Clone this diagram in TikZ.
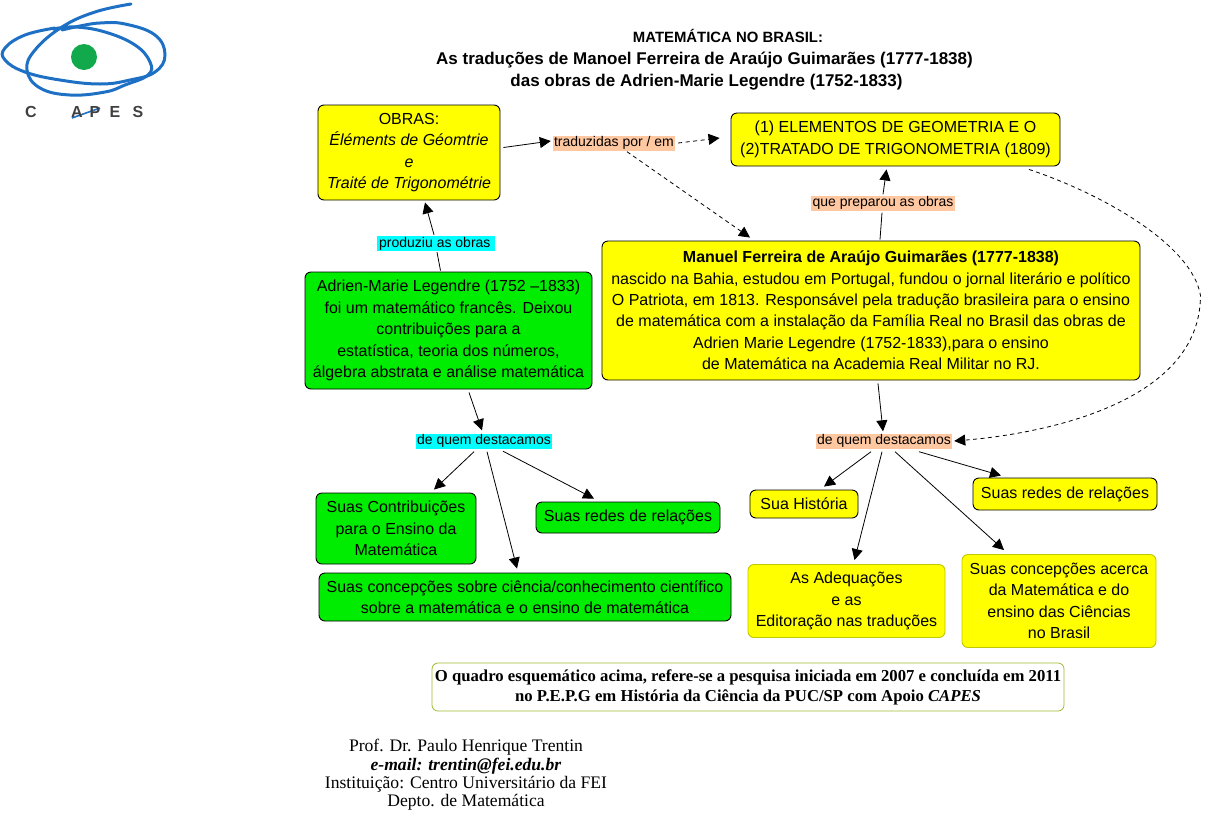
\documentclass[tikz,border=0pt]{standalone}
\usepackage{fontspec}
\setmainfont{Liberation Sans}
\newfontfamily\serifface{Liberation Serif}
\usepackage{xcolor}
\usetikzlibrary{arrows.meta,positioning,calc}
\definecolor{cyellow}{HTML}{FFFF00}
\definecolor{cgreen}{HTML}{00EC00}
\definecolor{cpeach}{HTML}{FFC8A0}
\definecolor{ccyan}{HTML}{00FFFF}
\definecolor{cedge}{HTML}{BFC800}
\definecolor{cframe}{HTML}{9DBB2C}
\definecolor{cblue}{HTML}{1E70C4}
\definecolor{cdot}{HTML}{12A84C}
\tikzset{
  box/.style    = {draw, rounded corners=6pt, inner sep=0pt, align=center, line width=0.9pt,
                   font=\fontsize{16}{21.4}\selectfont},
  ybox/.style   = {box, fill=cyellow},
  gbox/.style   = {box, fill=cgreen},
  pbox/.style   = {box, fill=cyellow, draw=cedge},
  tag/.style    = {inner sep=0pt, minimum height=15pt, font=\fontsize{14}{15}\selectfont},
  rel/.style    = {-{Triangle[length=11pt,width=11pt]}, line width=0.8pt},
  reldash/.style= {rel, dash pattern=on 4pt off 3.5pt},
  plain/.style  = {line width=0.8pt},
}
\begin{document}
\begin{tikzpicture}[x=1pt,y=-1pt]
\useasboundingbox (0,0) rectangle (1206,839);
% logo
\draw[cblue,line width=3pt,line cap=round] plot[smooth,tension=0.7] coordinates {(131,4) (95,12) (62,27) (35,50) (27,70) (40,88) (70,95) (105,92) (125,85) (148,75) (150,62) (135,45) (105,32) (75,27) (53,29)};
\draw[cblue,line width=3pt,line cap=round] plot[smooth,tension=0.7] coordinates {(55,28) (25,35) (5,48) (5,60) (25,72) (60,80) (100,84) (130,80) (155,72) (165,55) (155,35) (125,24) (100,23) (80,26) (62,30)};
\draw[cblue,line width=1.6pt] (72,118) -- (100,108);
\node[fill=cdot,circle,inner sep=0pt,minimum size=26pt] (logodot) at (84,57) {};
\foreach \x/\lab in {31/C,77/A,95/P,115/E,138/S}{
  \node[font=\bfseries\fontsize{16}{16}\selectfont,text=black!75] (logo\lab) at (\x,112) {\lab};}
% title
\node[font=\bfseries\fontsize{14.9}{22}\selectfont] (title) at (728,36) {MATEMÁTICA NO BRASIL:};
\node[align=center,font=\bfseries\fontsize{17}{22}\selectfont] (subtitle) at (704.5,71)
  {As traduções de Manoel Ferreira de Araújo Guimarães (1777-1838)\\\hspace{4pt}das obras de Adrien-Marie Legendre (1752-1833)};
% top row
\node[ybox,minimum width=182pt,minimum height=95pt] (obras) at (409,152.5)
  {OBRAS:\\\textit{Éléments de Géomtrie}\\\textit{e}\\\textit{Traité de Trigonométrie}};
\node[ybox,minimum width=329pt,minimum height=53pt] (elementos) at (895.5,139.5)
  {(1) ELEMENTOS DE GEOMETRIA E O\\(2)TRATADO DE TRIGONOMETRIA (1809)};
\node[tag,fill=cpeach,minimum width=122pt] (traduzidas) at (614,143) {traduzidas por / em};
\node[tag,fill=cpeach,minimum width=144pt] (preparou) at (883,203) {que preparou as obras};
\node[tag,fill=ccyan,minimum width=118pt] (produziu) at (436,243.5) {produziu as obras\,};
% central row
\node[ybox,minimum width=538pt,minimum height=139pt] (manuel) at (871,310.5)
  {\textbf{Manuel Ferreira de Araújo Guimarães (1777-1838)}\\nascido na Bahia, estudou em Portugal, fundou o jornal literário e político\\O Patriota, em 1813. Responsável pela tradução brasileira para o ensino\\de matemática com a instalação da Família Real no Brasil das obras de\\Adrien Marie Legendre (1752-1833),para o ensino\\de Matemática na Academia Real Militar no RJ.};
\node[gbox,minimum width=287pt,minimum height=117pt] (legendre) at (448.5,330.5)
  {Adrien-Marie Legendre (1752 –1833)\\foi um matemático francês. Deixou\\contribuições para a\\estatística, teoria dos números,\\álgebra abstrata e análise matemática};
\node[tag,fill=ccyan,minimum width=136pt] (destacaA) at (484,441) {de quem destacamos};
\node[tag,fill=cpeach,minimum width=136pt] (destacaB) at (884,441) {de quem destacamos};
% green leaves
\node[gbox,minimum width=160pt,minimum height=71pt] (contrib) at (396,528.5)
  {Suas Contribuições\\para o Ensino da\\Matemática};
\node[gbox,minimum width=184pt,minimum height=31pt] (redesA) at (628,517.5) {Suas redes de relações};
\node[gbox,minimum width=412pt,minimum height=48pt] (cienciaA) at (525,597)
  {Suas concepções sobre ciência/conhecimento científico\\sobre a matemática e o ensino de matemática};
% yellow leaves
\node[ybox,minimum width=108pt,minimum height=28pt] (historia) at (804,504) {Sua História};
\node[ybox,minimum width=184pt,minimum height=32pt] (redesB) at (1065,494) {Suas redes de relações};
\node[pbox,minimum width=197pt,minimum height=73pt] (adequa) at (846.5,601)
  {As Adequações\\e as\\Editoração nas traduções};
\node[pbox,minimum width=194pt,minimum height=93pt] (cienciaB) at (1059,601)
  {Suas concepções acerca\\da Matemática e do\\ensino das Ciências\\no Brasil};
% bottom text
\node[draw=cframe,rounded corners=6pt,line width=0.8pt,inner sep=0pt,minimum width=632pt,minimum height=48pt,align=center,
      font=\serifface\bfseries\fontsize{16.7}{20}\selectfont] (quadro) at (748,687)
  {O quadro esquemático acima, refere-se a pesquisa iniciada em 2007 e concluída em 2011\\no P.E.P.G em História da Ciência da PUC/SP com Apoio \textit{CAPES}};
\node[align=center,font=\serifface\fontsize{17.6}{18.4}\selectfont] (autor) at (466,775)
  {Prof. Dr. Paulo Henrique Trentin\\\textbf{\textit{e-mail: trentin@fei.edu.br}}\\Instituição: Centro Universitário da FEI\\Depto. de Matemática};
% connectors
\draw[rel] ([xshift=3pt,yshift=5pt]obras.east) -- ([xshift=-2pt,yshift=2pt]traduzidas.west);
\draw[reldash] ([xshift=3pt]traduzidas.east) -- ([xshift=-11pt,yshift=1.5pt]elementos.west);
\draw[reldash] ([xshift=13pt,yshift=-1pt]traduzidas.south) -- ([xshift=-121pt,yshift=3pt]manuel.north);
\draw[plain] ([xshift=9pt,yshift=1pt]manuel.north) -- ([xshift=-1pt,yshift=-2pt]preparou.south);
\draw[rel] ([xshift=0pt,yshift=1pt]preparou.north) -- ([xshift=-9pt,yshift=-3pt]elementos.south);
\draw[plain] ([xshift=-8pt,yshift=1pt]legendre.north) -- ([xshift=1pt,yshift=-1pt]produziu.south);
\draw[rel] ([xshift=-2pt,yshift=1pt]produziu.north) -- ([xshift=16pt,yshift=-2pt]obras.south);
\draw[rel] ([xshift=20.5pt,yshift=-3pt]legendre.south) -- ([xshift=-2pt,yshift=3pt]destacaA.north);
\draw[rel] ([xshift=-10pt,yshift=-3pt]destacaA.south) -- ([xshift=38pt,yshift=3pt]contrib.north);
\draw[rel] ([xshift=3pt,yshift=-3pt]destacaA.south) -- ([xshift=-8pt,yshift=4pt]cienciaA.north);
\draw[rel] ([xshift=19pt,yshift=-2.5pt]destacaA.south) -- ([xshift=-34pt,yshift=3pt]redesA.north);
\draw[rel] ([xshift=7pt,yshift=-3pt]manuel.south) -- ([xshift=-1pt,yshift=2pt]destacaB.north);
\draw[rel] ([xshift=-13pt,yshift=-3pt]destacaB.south) -- ([xshift=20pt,yshift=3pt]historia.north);
\draw[rel] ([xshift=-2pt,yshift=-3pt]destacaB.south) -- ([xshift=8pt,yshift=4pt]adequa.north);
\draw[rel] ([xshift=11pt,yshift=-3pt]destacaB.south) -- ([xshift=-55pt,yshift=4pt]cienciaB.north);
\draw[rel] ([xshift=35pt,yshift=-3pt]destacaB.south) -- ([xshift=-64pt,yshift=2pt]redesB.north);
\draw[reldash] ([xshift=133.5pt,yshift=-3pt]elementos.south) .. controls +(75,25) and +(-8,-50) .. ([xshift=60pt,yshift=15pt]manuel.east)
  .. controls +(0,105) and +(96,-8) .. ([xshift=2pt]destacaB.east);
\end{tikzpicture}
\end{document}
